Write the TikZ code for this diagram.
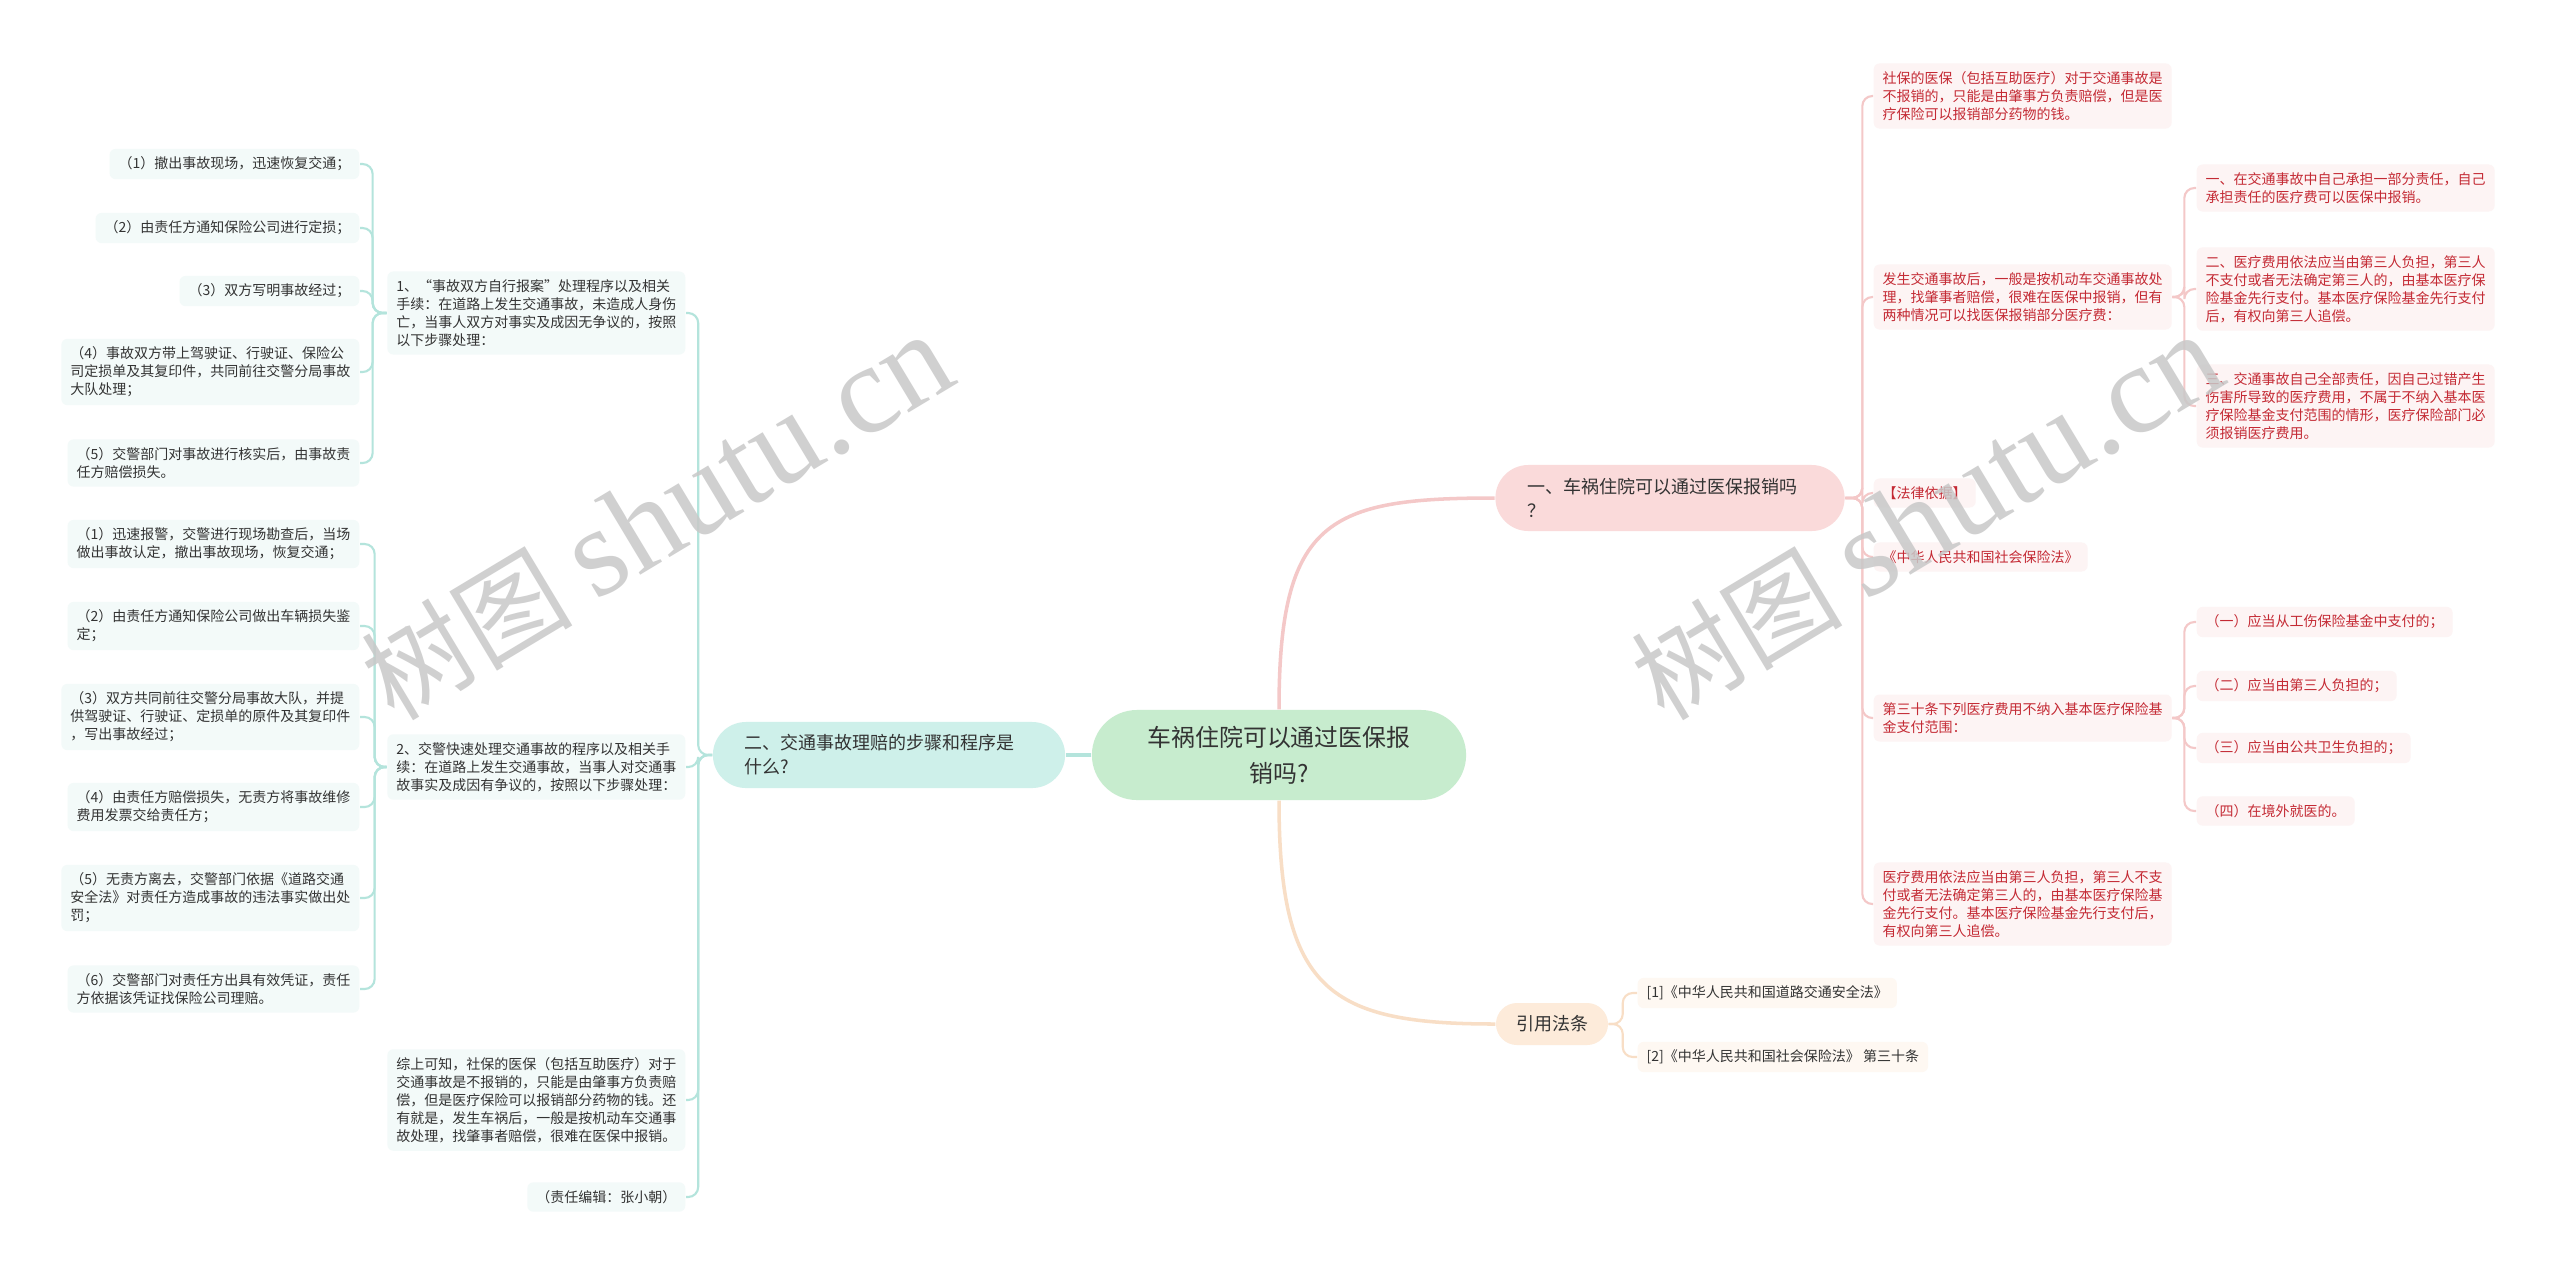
\documentclass[tikz,border=0pt]{standalone}
\usepackage{fontspec}
\newfontfamily\cjk{Noto Sans CJK SC}
\newfontfamily\wmlatin{Liberation Serif}
\usepackage{xcolor}
\usepackage{tikz}

\definecolor{darktext}{RGB}{51,51,51}
\definecolor{redtext}{RGB}{196,42,52}
\definecolor{rootfill}{RGB}{199,236,206}
\definecolor{tealfill}{RGB}{206,240,234}
\definecolor{tealedge}{RGB}{180,228,220}
\definecolor{pinkfill}{RGB}{250,218,218}
\definecolor{pinkedge}{RGB}{244,200,200}
\definecolor{peachfill}{RGB}{253,235,218}
\definecolor{peachedge}{RGB}{248,222,198}
\definecolor{leftbg}{RGB}{243,250,249}
\definecolor{rightbg}{RGB}{253,244,244}
\definecolor{citebg}{RGB}{254,248,242}
\definecolor{wmgray}{RGB}{200,200,200}

\begin{document}
\begin{tikzpicture}[
    x=0.01cm, y=-0.01cm,
    root/.style={rectangle, rounded corners=0.45cm, fill=rootfill, text=darktext, font=\cjk\fontsize{6.8pt}{10.2pt}\selectfont, align=center, text width=2.8cm, minimum width=3.74cm, minimum height=0.9cm, inner sep=0pt},
    branch/.style={rectangle, rounded corners=0.33cm, text=darktext, font=\cjk\fontsize{5.12pt}{6.8pt}\selectfont, align=left, inner xsep=0.32cm, inner ysep=0.1cm, minimum height=0.66cm},
    citebranch/.style={rectangle, rounded corners=0.21cm, fill=peachfill, text=darktext, font=\cjk\fontsize{5.12pt}{6.8pt}\selectfont, inner xsep=0.2cm, minimum height=0.42cm},
    leaf/.style={rectangle, rounded corners=0.06cm, font=\cjk\fontsize{3.98pt}{5.12pt}\selectfont, align=left, inner xsep=0.09cm, inner ysep=0.08cm},
    leafL/.style={leaf, fill=leftbg, text=darktext, anchor=east},
    leafR/.style={leaf, fill=rightbg, text=redtext, anchor=west},
    leafC/.style={leaf, fill=citebg, text=darktext, anchor=west},
    trunk/.style={line width=1pt},
    twig/.style={line width=0.6pt, rounded corners=0.1cm},
    watermark/.style={rotate=31, text=wmgray, opacity=0.85, font=\cjk\fontsize{30pt}{30pt}\selectfont, inner sep=0pt}
]
\useasboundingbox (0,0) rectangle (2560,1275);
\fill[white] (0,0) rectangle (2560,1275);

% centre and main branches
\node[root] (root) at (1279,755) {车祸住院可以通过医保报\\销吗?};
\node[branch, fill=pinkfill, text width=2.85cm] (b1) at (1670,498) {一、车祸住院可以通过医保报销吗\\？};
\node[branch, fill=tealfill, text width=2.88cm] (b2) at (889,755) {二、交通事故理赔的步骤和程序是\\什么?};
\node[citebranch] (b3) at (1552,1024) {引用法条};

\draw[trunk, tealedge] (root.west) -- (b2.east);
\draw[trunk, pinkedge] (root.north) .. controls +(0,-190) and +(-166,0) .. (b1.west);
\draw[trunk, peachedge] (root.south) .. controls +(0,190) and +(-166,0) .. (b3.west);

% branch one
\node[leafR] (r1) at (1873,96) {社保的医保（包括互助医疗）对于交通事故是\\不报销的，只能是由肇事方负责赔偿，但是医\\疗保险可以报销部分药物的钱。};
\node[leafR] (r2) at (1873,297) {发生交通事故后，一般是按机动车交通事故处\\理，找肇事者赔偿，很难在医保中报销，但有\\两种情况可以找医保报销部分医疗费：};
\node[leafR] (r3) at (1873,493) {【法律依据】};
\node[leafR] (r4) at (1873,557) {《中华人民共和国社会保险法》};
\node[leafR] (r5) at (1873,718) {第三十条下列医疗费用不纳入基本医疗保险基\\金支付范围：};
\node[leafR] (r6) at (1873,904) {医疗费用依法应当由第三人负担，第三人不支\\付或者无法确定第三人的，由基本医疗保险基\\金先行支付。基本医疗保险基金先行支付后，\\有权向第三人追偿。};

\node[leafR] (r2a) at (2196,188) {一、在交通事故中自己承担一部分责任，自己\\承担责任的医疗费可以医保中报销。};
\node[leafR] (r2b) at (2196,289) {二、医疗费用依法应当由第三人负担，第三人\\不支付或者无法确定第三人的，由基本医疗保\\险基金先行支付。基本医疗保险基金先行支付\\后，有权向第三人追偿。};
\node[leafR] (r2c) at (2196,406) {三、交通事故自己全部责任，因自己过错产生\\伤害所导致的医疗费用，不属于不纳入基本医\\疗保险基金支付范围的情形，医疗保险部门必\\须报销医疗费用。};

\node[leafR] (r5a) at (2196,622) {（一）应当从工伤保险基金中支付的；};
\node[leafR] (r5b) at (2196,686) {（二）应当由第三人负担的；};
\node[leafR] (r5c) at (2196,748) {（三）应当由公共卫生负担的；};
\node[leafR] (r5d) at (2196,811) {（四）在境外就医的。};

\foreach \c in {r1,r2,r3,r4,r5,r6}
    \draw[twig, pinkedge] (b1.east) -- ++(17,0) |- (\c.west);
\foreach \c in {r2a,r2b,r2c}
    \draw[twig, pinkedge] (r2.east) -- ++(12,0) |- (\c.west);
\foreach \c in {r5a,r5b,r5c,r5d}
    \draw[twig, pinkedge] (r5.east) -- ++(12,0) |- (\c.west);

% cited laws
\node[leafC] (c1) at (1637,993) {[1]《中华人民共和国道路交通安全法》};
\node[leafC] (c2) at (1637,1057) {[2]《中华人民共和国社会保险法》 第三十条};
\foreach \c in {c1,c2}
    \draw[twig, peachedge] (b3.east) -- ++(14,0) |- (\c.west);

% branch two
\node[leafL] (l1) at (686,313) {1、“事故双方自行报案”处理程序以及相关\\手续：在道路上发生交通事故，未造成人身伤\\亡，当事人双方对事实及成因无争议的，按照\\以下步骤处理：};
\node[leafL] (l2) at (686,767) {2、交警快速处理交通事故的程序以及相关手\\续：在道路上发生交通事故，当事人对交通事\\故事实及成因有争议的，按照以下步骤处理：};
\node[leafL] (l3) at (686,1100) {综上可知，社保的医保（包括互助医疗）对于\\交通事故是不报销的，只能是由肇事方负责赔\\偿，但是医疗保险可以报销部分药物的钱。还\\有就是，发生车祸后，一般是按机动车交通事\\故处理，找肇事者赔偿，很难在医保中报销。};
\node[leafL] (l4) at (686,1197) {（责任编辑：张小朝）};

\node[leafL] (l1a) at (360,164) {（1）撤出事故现场，迅速恢复交通；};
\node[leafL] (l1b) at (360,228) {（2）由责任方通知保险公司进行定损；};
\node[leafL] (l1c) at (360,291) {（3）双方写明事故经过；};
\node[leafL] (l1d) at (360,372) {（4）事故双方带上驾驶证、行驶证、保险公\\司定损单及其复印件，共同前往交警分局事故\\大队处理；};
\node[leafL] (l1e) at (360,463) {（5）交警部门对事故进行核实后，由事故责\\任方赔偿损失。};

\node[leafL] (l2a) at (360,544) {（1）迅速报警，交警进行现场勘查后，当场\\做出事故认定，撤出事故现场，恢复交通；};
\node[leafL] (l2b) at (360,626) {（2）由责任方通知保险公司做出车辆损失鉴\\定；};
\node[leafL] (l2c) at (360,717) {（3）双方共同前往交警分局事故大队，并提\\供驾驶证、行驶证、定损单的原件及其复印件\\，写出事故经过；};
\node[leafL] (l2d) at (360,807) {（4）由责任方赔偿损失，无责方将事故维修\\费用发票交给责任方；};
\node[leafL] (l2e) at (360,898) {（5）无责方离去，交警部门依据《道路交通\\安全法》对责任方造成事故的违法事实做出处\\罚；};
\node[leafL] (l2f) at (360,989) {（6）交警部门对责任方出具有效凭证，责任\\方依据该凭证找保险公司理赔。};

\foreach \c in {l1,l2,l3,l4}
    \draw[twig, tealedge] (b2.west) -- ++(-14,0) |- (\c.east);
\foreach \c in {l1a,l1b,l1c,l1d,l1e}
    \draw[twig, tealedge] (l1.west) -- ++(-14,0) |- (\c.east);
\foreach \c in {l2a,l2b,l2c,l2d,l2e,l2f}
    \draw[twig, tealedge] (l2.west) -- ++(-12,0) |- (\c.east);

% watermarks
\node[watermark] (wm1) at (657,518) {树图 {\wmlatin\fontsize{36pt}{36pt}\selectfont shutu.cn}};
\node[watermark] (wm2) at (1927,518) {树图 {\wmlatin\fontsize{36pt}{36pt}\selectfont shutu.cn}};
\end{tikzpicture}
\end{document}
